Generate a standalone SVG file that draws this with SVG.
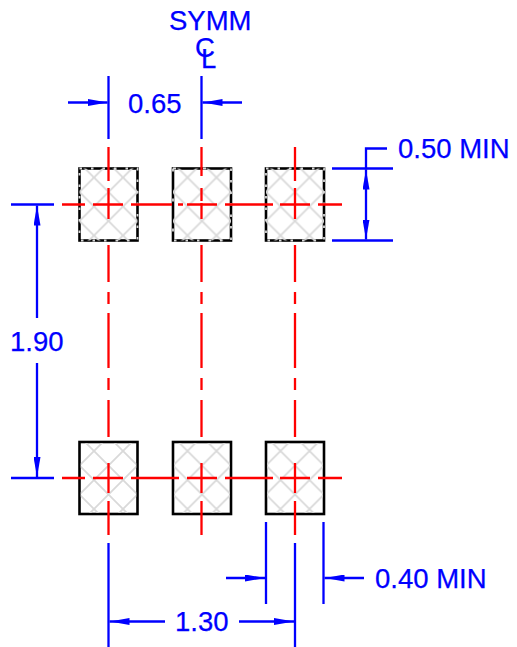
<svg xmlns="http://www.w3.org/2000/svg" width="517" height="647" viewBox="0 0 517 647">
<style>
.t{font-family:"Liberation Sans",Arial,sans-serif;font-size:27.5px;fill:#0000ff;stroke:#0000ff;stroke-width:.25}
.d{stroke:#0000ff;stroke-width:2.3;fill:none}
.c{stroke:#ff0000;stroke-width:2.3;fill:none}
.p{fill:#fff;stroke:#000;stroke-width:2.6}
.h{stroke:#d9d9d9;stroke-width:1.8;fill:none}
.g{stroke:#d9d9d9;stroke-width:1.8;fill:none;stroke-dasharray:2.500 9}
.s{stroke-dasharray:3 27}
</style>
<defs>
<pattern id="x" width="29" height="29" patternUnits="userSpaceOnUse" patternTransform="translate(14.500 9)">
<path class="h" d="M-1 -1L30 30M30 -1L-1 30"/>
</pattern>
<marker id="a" viewBox="0 0 20 7" refX="20" refY="3.500" markerWidth="20" markerHeight="7" markerUnits="userSpaceOnUse" orient="auto"><path d="M0 0L20 3.500L0 7Z" fill="#0000ff"/></marker>
</defs>
<g id="pads">
<g id="pad-top-1"><rect class="p" x="79.500" y="168.500" width="58" height="72"/><rect transform="translate(79.500 168.500)" width="58" height="72" fill="url(#x)"/><rect class="g" x="79.500" y="168.500" width="58" height="72"/></g>
<g id="pad-top-2"><rect class="p" x="173" y="168.500" width="58" height="72"/><rect transform="translate(173 168.500)" width="58" height="72" fill="url(#x)"/><path class="g s" d="M173 168.500H231M173 168.500V240.500"/><path class="g" d="M231 168.500V240.500H173"/></g>
<g id="pad-top-3"><rect class="p" x="266" y="168.500" width="58" height="72"/><rect transform="translate(266 168.500)" width="58" height="72" fill="url(#x)"/><rect class="g" x="266" y="168.500" width="58" height="72"/></g>
<g id="pad-bottom-1"><rect class="p" x="79.500" y="442" width="58" height="72"/><rect transform="translate(79.500 442)" x="1.200" y="1.200" width="55.600" height="69.600" fill="url(#x)"/></g>
<g id="pad-bottom-2"><rect class="p" x="173" y="442" width="58" height="72"/><rect transform="translate(173 442)" x="1.200" y="1.200" width="55.600" height="69.600" fill="url(#x)"/></g>
<g id="pad-bottom-3"><rect class="p" x="266" y="442" width="58" height="72"/><rect transform="translate(266 442)" x="1.200" y="1.200" width="55.600" height="69.600" fill="url(#x)"/></g>
</g>
<g id="centerlines">
<path class="c" d="M62 204.500H85M93 204.500H123M131 204.500H172M178 204.500H183M187 204.500H217M225 204.500H273M280 204.500H310M318 204.500H342"/>
<path class="c" d="M62 478H85M93 478H123M131 478H179M187 478H217M225 478H273M280 478H310M318 478H342"/>
<path class="c" d="M108.500 147V181M108.500 188V219M108.500 245V282M108.500 292V304M108.500 313V368M108.500 378V390M108.500 400V437M108.500 463V493M108.500 501V535"/>
<path class="c" d="M201.500 147V176M201.500 188V201M201.500 203V219M201.500 245V282M201.500 292V304M201.500 313V368M201.500 378V390M201.500 400V437M201.500 463V493M201.500 501V535"/>
<path class="c" d="M295 147V181M295 188V219M295 245V282M295 292V304M295 313V368M295 378V390M295 400V437M295 463V493M295 501V535"/>
</g>
<g id="connectors">
<path class="d" d="M108.500 76V139M201.500 76V139"/>
<path class="d" d="M68 102.500H107.500" marker-end="url(#a)"/>
<path class="d" d="M242 102.500H202.500" marker-end="url(#a)"/>
<path class="d" d="M11 204.500H54M11 478H54"/>
<path class="d" d="M37 318V205.500" marker-end="url(#a)"/>
<path class="d" d="M37 363V477" marker-end="url(#a)"/>
<path class="d" d="M332 168.500H393M332 240.500H393"/>
<path class="d" d="M387 148.500H366V169.500"/>
<path class="d" d="M366 205V169.500" marker-end="url(#a)"/>
<path class="d" d="M366 205V239.500" marker-end="url(#a)"/>
<path class="d" d="M108.500 543V647M295 543V647"/>
<path class="d" d="M165 621.500H109.500" marker-end="url(#a)"/>
<path class="d" d="M239 621.500H294" marker-end="url(#a)"/>
<path class="d" d="M266 522V604M323.500 522V604"/>
<path class="d" d="M226 578H265" marker-end="url(#a)"/>
<path class="d" d="M364 578H324.500" marker-end="url(#a)"/>
</g>
<g id="labels">
<text class="t" x="169" y="30">SYMM</text>
<text class="t" x="195" y="57">C</text>
<text class="t" x="201" y="68">L</text>
<text class="t" x="128" y="113">0.65</text>
<text class="t" x="398" y="158">0.50 MIN</text>
<text class="t" x="10" y="351">1.90</text>
<text class="t" x="175" y="631">1.30</text>
<text class="t" x="375" y="588">0.40 MIN</text>
</g>
</svg>
